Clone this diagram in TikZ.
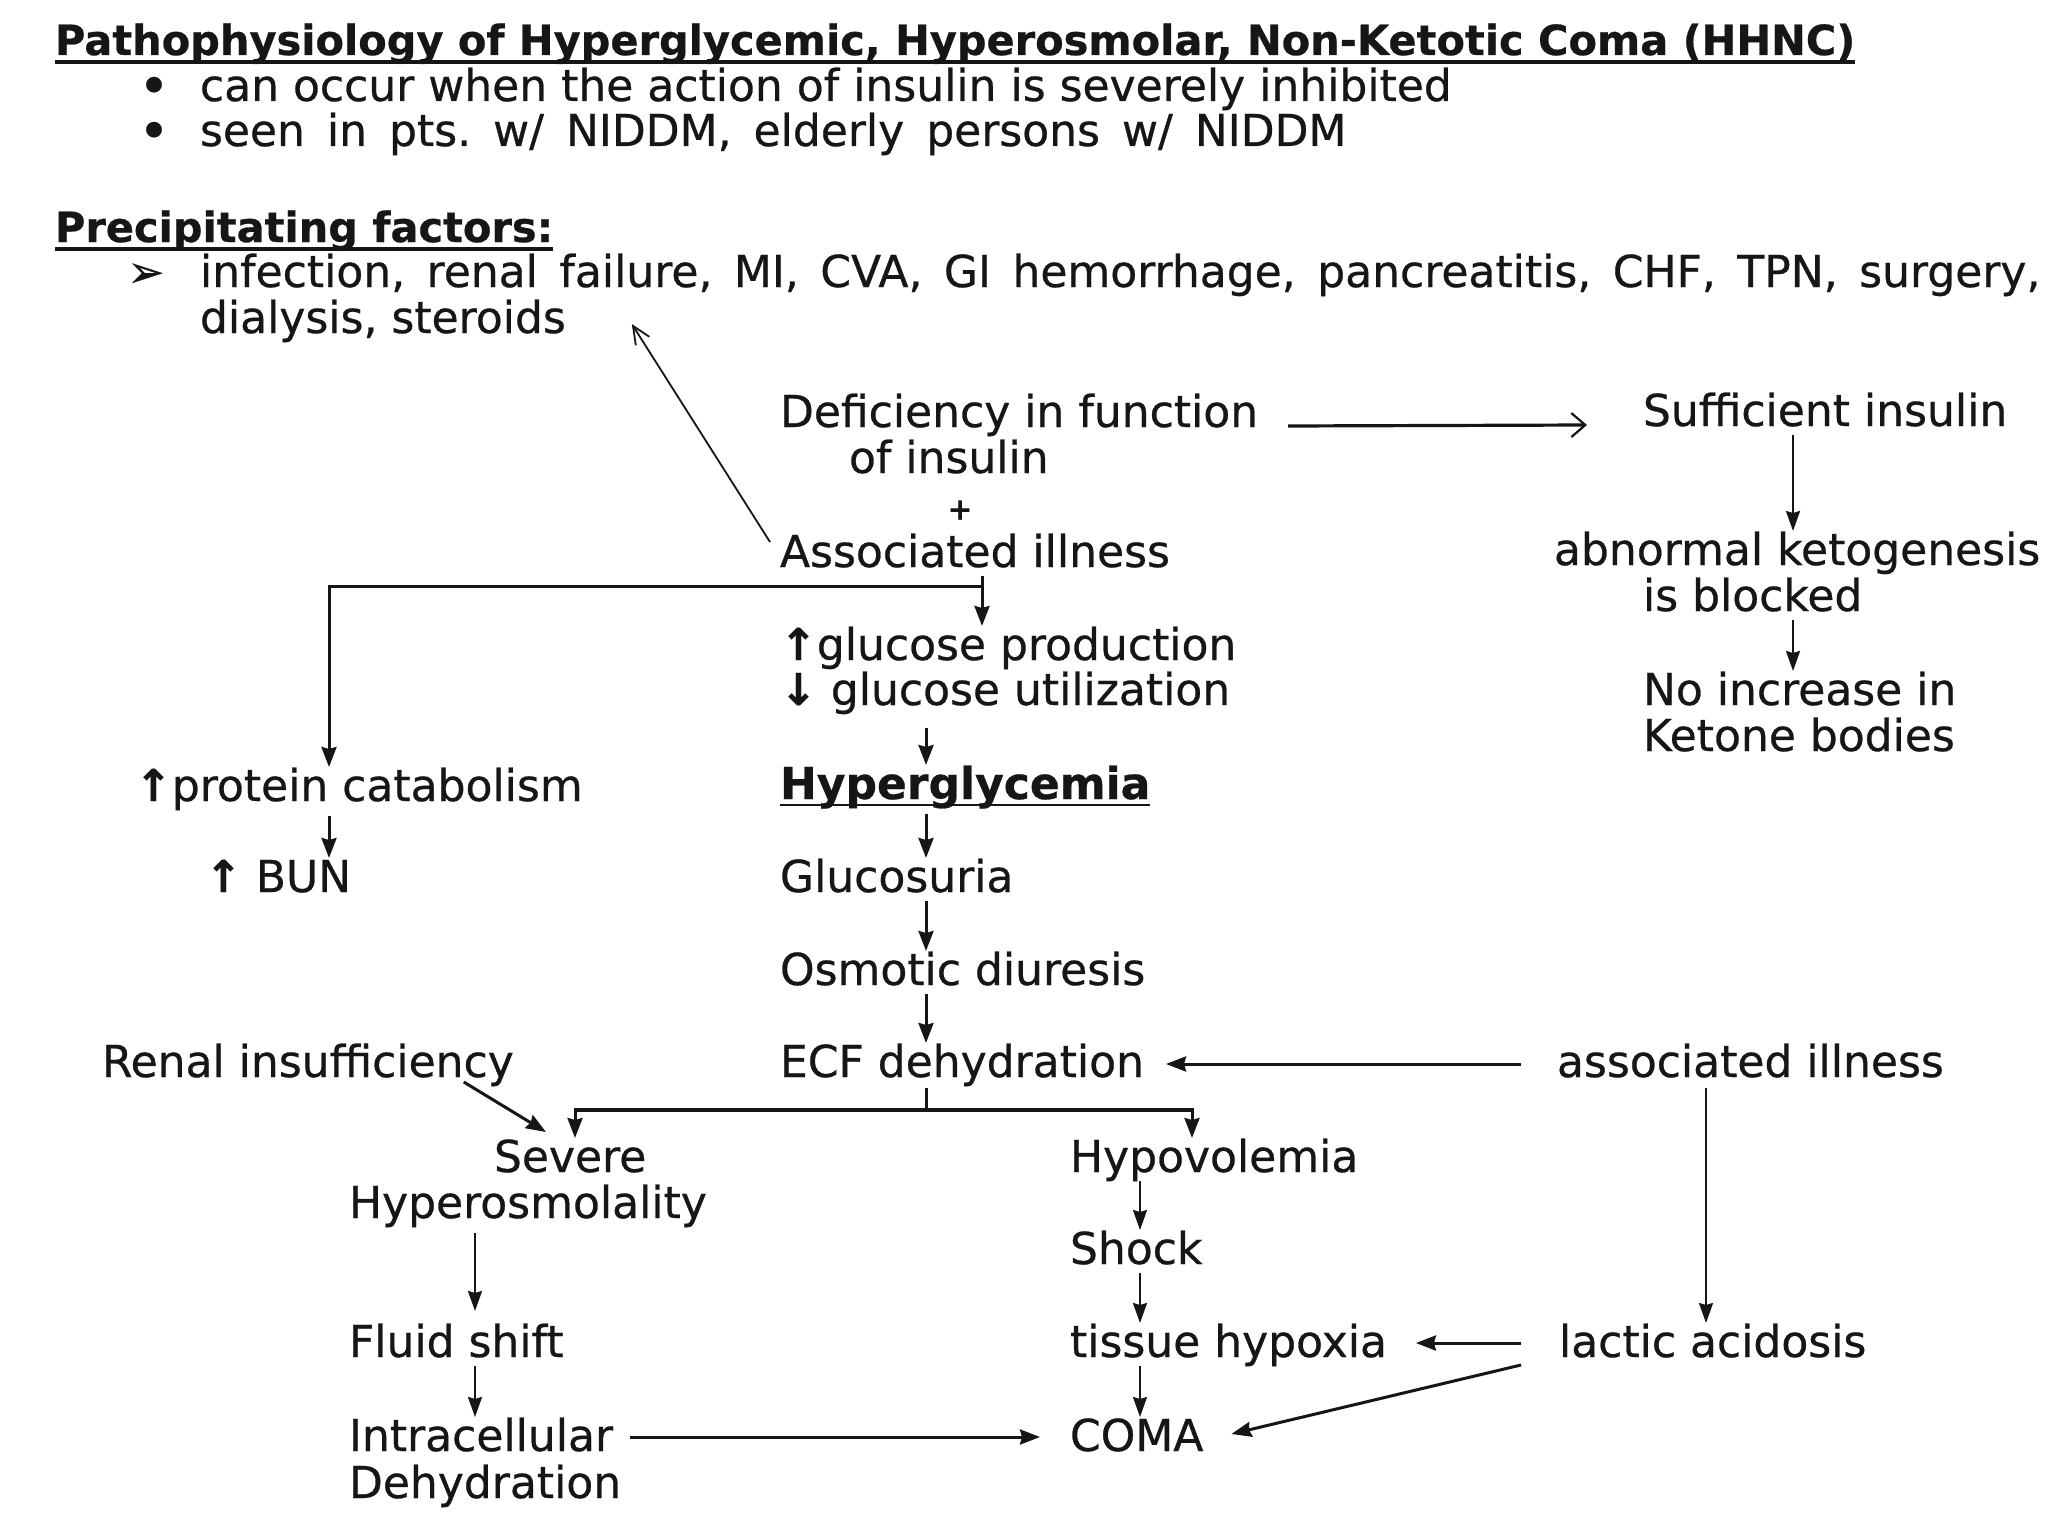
\documentclass[tikz,border=0pt]{standalone}
\usepackage{fontspec}
\setmainfont{DejaVu Sans}[FakeBold=0.6]
\usetikzlibrary{arrows.meta,calc}
\definecolor{ink}{HTML}{161616}
\frenchspacing
\begin{document}
\begin{tikzpicture}[x=1pt,y=-1pt,
  every node/.style={inner sep=0pt, outer sep=0pt, text=ink},
  lbl/.style={anchor=base west, font=\fontsize{44}{52}\selectfont, text height=34pt, text depth=9pt},
  hdr/.style={anchor=base west, font=\fontsize{41.5}{50}\selectfont\bfseries},
  arr/.style={line width=3pt, draw=ink, -{Stealth[length=20pt,width=15pt,inset=2pt]}},
  thinarr/.style={line width=2.2pt, draw=ink, -{Stealth[length=20pt,width=14pt,inset=2pt]}},
  openarr/.style={line width=3.2pt, draw=ink, -{Straight Barb[length=14pt,width=24pt,line width=2.2pt]}},
  thinopen/.style={line width=1.8pt, draw=ink, -{Straight Barb[length=18pt,width=16pt,line width=1.8pt]}},
  link/.style={line width=3pt, draw=ink},
  uline/.style={line width=3.5pt, draw=ink}
]
\useasboundingbox[fill=white] (0,0) rectangle (2048,1536);

% ---- header text
\node[hdr] (title) at (55,55) {Pathophysiology of Hyperglycemic, Hyperosmolar, Non-Ketotic Coma (HHNC)};
\draw[uline] ([yshift=-7pt]title.base west) -- ([yshift=-7pt]title.base east);
\node[lbl, anchor=base, font=\fontsize{44}{52}\selectfont\bfseries] (dot1) at (154,101) {•};
\node[lbl] (b1) at (200,101) {can occur when the action of insulin is severely inhibited};
\node[lbl, anchor=base, font=\fontsize{44}{52}\selectfont\bfseries] (dot2) at (154,146) {•};
\node[lbl] (b2) at (200,146) {\spaceskip=22pt seen in pts. w/ NIDDM, elderly persons w/ NIDDM};
\node[hdr] (prec) at (55,242) {Precipitating factors:};
\draw[uline] ([yshift=-7pt]prec.base west) -- ([yshift=-7pt]prec.base east);
\node[lbl, anchor=base, font=\fontsize{44}{52}\selectfont\bfseries] (tri) at (146,287) {➢};
\node[lbl] (inf) at (200,287) {\spaceskip=21.5pt infection, renal failure, MI, CVA, GI hemorrhage, pancreatitis, CHF, TPN, surgery,};
\node[lbl] (dial) at (200,333) {dialysis, steroids};

% ---- flow nodes
\node[lbl] (def) at (780,427) {Deficiency in function};
\node[lbl] (ofins) at (849,473) {of insulin};
\node[lbl, anchor=center, font=\fontsize{30}{36}\selectfont\bfseries] (plus) at (960,507) {+};
\node[lbl] (assoc) at (780,567) {Associated illness};
\node[lbl] (suf) at (1643,426) {Sufficient insulin};
\node[lbl] (abn) at (1554,565) {abnormal ketogenesis};
\node[lbl] (blk) at (1643,611) {is blocked};
\node[lbl] (noinc) at (1643,705) {No increase in};
\node[lbl] (ket) at (1643,751) {Ketone bodies};
\node[lbl] (gprod) at (780,660) {\textbf{↑}glucose production};
\node[lbl] (gutil) at (780,705) {\textbf{↓} glucose utilization};
\node[lbl, font=\fontsize{44}{52}\selectfont\bfseries] (hyper) at (780,799) {Hyperglycemia};
\draw[line width=2.8pt, draw=ink] ([yshift=-6pt]hyper.base west) -- ([yshift=-6pt]hyper.base east);
\node[lbl] (prot) at (135,801) {\textbf{↑}protein catabolism};
\node[lbl] (bun) at (205,892) {\textbf{↑} BUN};
\node[lbl] (gluc) at (780,892) {Glucosuria};
\node[lbl] (osm) at (780,985) {Osmotic diuresis};
\node[lbl] (renal) at (102,1077) {Renal insufficiency};
\node[lbl] (ecf) at (780,1077) {ECF dehydration};
\node[lbl] (assoc2) at (1557,1077) {associated illness};
\node[lbl] (sev) at (494,1172) {Severe};
\node[lbl] (hyos) at (349,1218) {Hyperosmolality};
\node[lbl] (hypo) at (1070,1172) {Hypovolemia};
\node[lbl] (shock) at (1070,1264) {Shock};
\node[lbl] (fluid) at (349,1357) {Fluid shift};
\node[lbl] (tiss) at (1070,1357) {tissue hypoxia};
\node[lbl] (lact) at (1559,1357) {lactic acidosis};
\node[lbl] (intra) at (349,1451) {Intracellular};
\node[lbl] (dehy) at (349,1498) {Dehydration};
\node[lbl] (coma) at (1070,1451) {COMA};

% ---- column coordinates
\coordinate (cM) at (926,0);
\coordinate (cR) at (1793,0);
\coordinate (cL) at (329,0);
\coordinate (cA) at (982,0);
\coordinate (cH) at (1140,0);
\coordinate (cF) at (475,0);
\coordinate (cI) at (1706,0);
\coordinate (cS) at (575,0);
\coordinate (cV) at (1192,0);

% ---- connectors
\draw[openarr] ([xshift=30pt,yshift=1pt]def.base east) -- ([xshift=-56pt,yshift=1pt]suf.base west);
\draw[thinarr] (suf.south -| cR) -- (abn.north -| cR);
\draw[thinarr] (blk.south -| cR) -- (noinc.north -| cR);
\draw[thinopen] ([xshift=-10pt,yshift=25pt]assoc.base west) -- ([xshift=66pt,yshift=9pt]dial.base east);

\coordinate (br1) at ($(assoc.south -| cA)+(0,10)$);
\draw[arr] (assoc.south -| cA) -- (gprod.north -| cA);
\draw[link] (br1) -- (br1 -| cL);
\draw[arr] ([yshift=1.5pt]br1 -| cL) -- (prot.north -| cL);
\draw[arr] ([yshift=-6pt]prot.south -| cL) -- (bun.north -| cL);

\draw[arr] ([yshift=-14pt]gutil.south -| cM) -- (hyper.north -| cM);
\draw[arr] ([yshift=-6pt]hyper.south -| cM) -- (gluc.north -| cM);
\draw[arr] (gluc.south -| cM) -- (osm.north -| cM);
\draw[arr] (osm.south -| cM) -- (ecf.north -| cM);

\draw[arr] ([yshift=13pt,xshift=-36pt]assoc2.base west) -- ([yshift=13pt,xshift=22pt]ecf.base east);
\coordinate (br2) at ($(ecf.south -| cM)+(0,24)$);
\draw[link] ([yshift=-2pt]ecf.south -| cM) -- (br2);
\draw[line width=4pt, draw=ink] (br2 -| cS) -- (br2 -| cV);
\draw[arr] ([yshift=2pt]br2 -| cS) -- (sev.north -| cS);
\draw[arr] ([yshift=2pt]br2 -| cV) -- (hypo.north -| cV);
\draw[arr] ([xshift=-50pt,yshift=4pt]renal.south east) -- ([xshift=52pt,yshift=6pt]sev.north west);

\draw[thinarr] (hypo.south -| cH) -- (shock.north -| cH);
\draw[thinarr] (shock.south -| cH) -- (tiss.north -| cH);
\draw[thinarr] (tiss.south -| cH) -- (coma.north -| cH);
\draw[thinarr] ([yshift=-6pt]hyos.south -| cF) -- ([yshift=12pt]fluid.north -| cF);
\draw[thinarr] (fluid.south -| cF) -- (intra.north -| cF);
\draw[thinarr] ([yshift=-2pt]assoc2.south -| cI) -- (lact.north -| cI);

\draw[arr] ([yshift=14pt,xshift=-38pt]lact.base west) -- ([yshift=14pt,xshift=29pt]tiss.base east);
\draw[arr] ([yshift=-8pt,xshift=-38pt]lact.base west) -- ([yshift=17pt,xshift=28pt]coma.base east);
\draw[arr] ([yshift=14pt,xshift=17pt]intra.base east) -- ([yshift=14pt,xshift=-30pt]coma.base west);
\end{tikzpicture}
\end{document}
